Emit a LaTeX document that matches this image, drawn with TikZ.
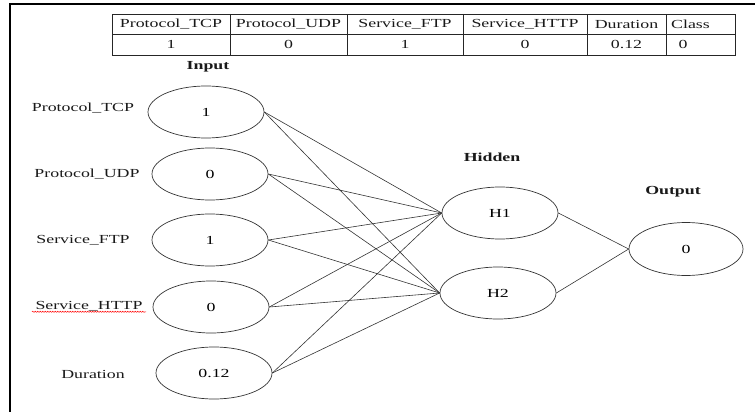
\documentclass[tikz,border=0pt]{standalone}
\usepackage{fontspec}
\setmainfont{Liberation Serif}[FakeStretch=1.45]
\usetikzlibrary{shapes.geometric,decorations.pathmorphing}

\newcommand{\diagfont}{\fontsize{12.3}{14}\selectfont}

\tikzset{
  neuron/.style = {draw, ellipse, minimum width=116pt, minimum height=52pt,
    inner sep=0pt, line width=0.7pt, color=black!80, text=black},
  link/.style = {line width=0.6pt, color=black!80},
  layer/.style = {font=\diagfont\bfseries},
  grid/.style = {line width=0.8pt, color=black!85},
}

\begin{document}
\begin{tikzpicture}[x=1pt, y=-1pt, every node/.style={font=\diagfont, text=black!90}]
        \useasboundingbox (0,0) rectangle (755,412);
        \draw[line width=2pt] (755,4) -- (10,4) -- (10,412);

        % table
        \draw[grid] (112,14) rectangle (735,55);
        \draw[grid] (112,34) -- (735,34);
        \foreach \x in {230,347,463,587,666}
            \draw[grid] (\x,14) -- (\x,55);

        \node (ttcp) at (171,24) {Protocol\_TCP};
        \node (tudp) at (288.5,24) {Protocol\_UDP};
        \node (tftp) at (405,24) {Service\_FTP};
        \node (thttp) at (525,24) {Service\_HTTP};
        \node (tdur) at (626.5,24) {Duration};
        \node[anchor=west, inner xsep=0pt] (tcls) at (671,24) {Class};
        \node (vtcp) at (171,44.5) {1};
        \node (vudp) at (288.5,44.5) {0};
        \node (vftp) at (405,44.5) {1};
        \node (vhttp) at (525,44.5) {0};
        \node (vdur) at (626.5,44.5) {0.12};
        \node (vcls) at (683,44.5) {0};

        % layers
        \node[layer] (input) at (208,67) {Input};
        \node[layer] (hidden) at (492,157) {Hidden};
        \node[layer] (output) at (673,192) {Output};

        \node[neuron] (in1) at (206,112) {1};
        \node[neuron] (in2) at (210,174) {0};
        \node[neuron] (in3) at (210,240) {1};
        \node[neuron] (in4) at (211,307) {0};
        \node[neuron] (in5) at (214,373) {0.12};

        \node (ltcp) at (83,108) {Protocol\_TCP};
        \node (ludp) at (87,174) {Protocol\_UDP};
        \node (lftp) at (83,240) {Service\_FTP};
        \node (lhttp) at (89,306) {Service\_HTTP};
        \node (ldur) at (93,374) {Duration};
        \draw[red, line width=0.5pt, decorate,
            decoration={snake, amplitude=0.6pt, segment length=2.5pt}]
            ([yshift=-2.5pt]lhttp.base west) -- ([yshift=-2.5pt]lhttp.base east);

        \node[neuron] (h1) at (500,213) {H1};
        \node[neuron] (h2) at (498,293) {H2};
        \node[neuron, minimum width=114pt, minimum height=53pt] (out) at (686,249) {0};

        \foreach \i in {1,...,5} {
            \draw[link] (in\i.east) -- (h1.west);
            \draw[link] (in\i.east) -- (h2.west);
        }
        \draw[link] (h1.east) -- (out.west);
        \draw[link] (h2.east) -- (out.west);
\end{tikzpicture}
\end{document}
